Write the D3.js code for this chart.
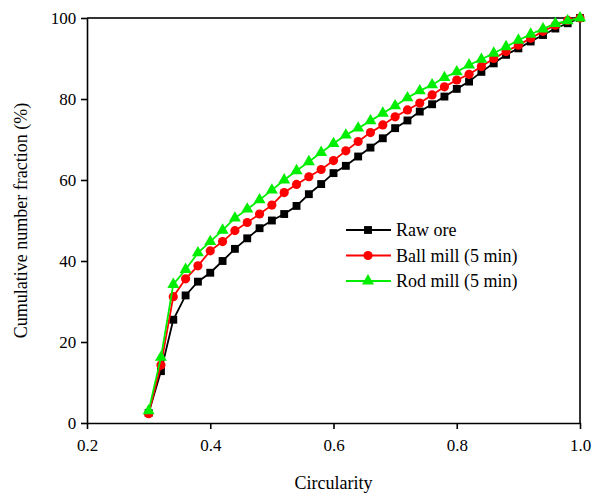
<!DOCTYPE html>
<html>
<head>
<meta charset="utf-8">
<script src="https://cdn.jsdelivr.net/npm/d3@7"></script>
<style>
  body { margin: 0; background: #fff; }
  svg text { font-family: "Liberation Serif", "Times New Roman", Times, serif; }
</style>
</head>
<body>
<div id="chart"></div>
<script>
// circularity values (x)
var circularity = [0.30, 0.32, 0.34, 0.36, 0.38, 0.40, 0.42, 0.44, 0.46, 0.48,
  0.50, 0.52, 0.54, 0.56, 0.58, 0.60, 0.62, 0.64, 0.66, 0.68,
  0.70, 0.72, 0.74, 0.76, 0.78, 0.80, 0.82, 0.84, 0.86, 0.88,
  0.90, 0.92, 0.94, 0.96, 0.98, 1.00];

var rawOre = [2.5, 12.8, 25.5, 31.5, 34.9, 37.1, 40.0, 43.0, 45.6, 48.1,
  50.0, 51.6, 53.6, 56.5, 59.0, 61.7, 63.5, 65.8, 68.0, 70.3,
  72.8, 74.7, 76.9, 78.7, 80.6, 82.5, 84.3, 86.7, 88.8, 90.9,
  92.5, 94.2, 95.8, 97.4, 98.7, 100];

var ballMill = [2.3, 14.3, 31.2, 35.6, 38.8, 42.5, 44.8, 47.5, 49.5, 51.6,
  53.8, 56.9, 58.9, 60.8, 62.6, 64.8, 67.2, 69.5, 71.7, 73.6,
  75.6, 77.3, 79.0, 81.0, 83.0, 84.7, 86.1, 88.0, 90.0, 91.7,
  93.3, 95.0, 96.7, 98.2, 99.4, 100];

var rodMill = [3.0, 16.2, 34.2, 37.9, 42.0, 44.8, 47.6, 50.6, 52.8, 55.1,
  57.5, 60.0, 62.3, 64.5, 66.8, 69.0, 71.1, 72.8, 74.6, 76.5,
  78.3, 80.3, 82.0, 83.5, 85.3, 86.7, 88.4, 89.8, 91.3, 92.9,
  94.5, 96.0, 97.3, 98.6, 99.3, 100];

var seriesNames = ["Raw ore", "Ball mill (5 min)", "Rod mill (5 min)"];
var xTicks = [0.2, 0.4, 0.6, 0.8, 1.0];
var yTicks = [0, 20, 40, 60, 80, 100];

var width = 593;
var height = 496;
var margin = { top: 18, right: 13, bottom: 73, left: 87 };
var serif = '"Liberation Serif", "Times New Roman", Times, serif';

var svg = d3.select("#chart").append("svg")
  .attr("width", width)
  .attr("height", height)
  .attr("font-family", serif);

var x = d3.scaleLinear().domain([0.2, 1.0]).range([margin.left, width - margin.right]);
var y = d3.scaleLinear().domain([0, 100]).range([height - margin.bottom, margin.top]);

var series = [
  { name: seriesNames[0], values: rawOre, color: "#000000", symbol: d3.symbolSquare, size: 62 },
  { name: seriesNames[1], values: ballMill, color: "#ff0000", symbol: d3.symbolCircle, size: 66 },
  { name: seriesNames[2], values: rodMill, color: "#00ee00", symbol: d3.symbolTriangle, size: 62 }
];

// frame (top and right)
svg.append("line")
  .attr("x1", x(0.2)).attr("x2", x(1.0))
  .attr("y1", y(100)).attr("y2", y(100))
  .attr("stroke", "#333").attr("stroke-width", 2);
svg.append("line")
  .attr("x1", x(1.0)).attr("x2", x(1.0))
  .attr("y1", y(100)).attr("y2", y(0))
  .attr("stroke", "#333").attr("stroke-width", 2);

// axes
var xAxis = svg.append("g")
  .attr("transform", "translate(0," + y(0) + ")")
  .call(d3.axisBottom(x).tickValues(xTicks).tickFormat(d3.format(".1f")).tickSize(6).tickSizeOuter(0));
var yAxis = svg.append("g")
  .attr("transform", "translate(" + x(0.2) + ",0)")
  .call(d3.axisLeft(y).tickValues(yTicks).tickSize(6).tickSizeOuter(0));

[xAxis, yAxis].forEach(function (g) {
  g.attr("font-family", serif).attr("font-size", 17);
  g.select(".domain").attr("stroke", "#000").attr("stroke-width", 1.6);
  g.selectAll(".tick line").attr("stroke", "#000").attr("stroke-width", 1.6);
  g.selectAll(".tick text").attr("fill", "#000");
});
xAxis.selectAll(".tick text").attr("dy", "1.1em");
yAxis.selectAll(".tick text").attr("dx", "-0.1em");

// axis titles
svg.append("text")
  .attr("x", (x(0.2) + x(1.0)) / 2)
  .attr("y", 489)
  .attr("text-anchor", "middle")
  .attr("font-size", 18)
  .text("Circularity");

svg.append("text")
  .attr("transform", "translate(27," + (y(0) + y(100)) / 2 + ") rotate(-90)")
  .attr("text-anchor", "middle")
  .attr("font-size", 18)
  .text("Cumulative number fraction (%)");

// lines and markers
var line = d3.line()
  .x(function (d, i) { return x(circularity[i]); })
  .y(function (d) { return y(d); });

series.forEach(function (s) {
  var g = svg.append("g");
  g.append("path")
    .datum(s.values)
    .attr("fill", "none")
    .attr("stroke", s.color)
    .attr("stroke-width", 1.8)
    .attr("d", line);
  g.selectAll("path.marker")
    .data(s.values)
    .join("path")
    .attr("class", "marker")
    .attr("transform", function (d, i) { return "translate(" + x(circularity[i]) + "," + y(d) + ")"; })
    .attr("d", d3.symbol().type(s.symbol).size(s.size))
    .attr("fill", s.color);
});

// legend
var legend = svg.append("g").attr("transform", "translate(346,230)");
series.forEach(function (s, i) {
  var row = legend.append("g").attr("transform", "translate(0," + i * 25.5 + ")");
  row.append("line")
    .attr("x1", 0).attr("x2", 45)
    .attr("stroke", s.color).attr("stroke-width", 1.8);
  row.append("path")
    .attr("transform", "translate(22,0)")
    .attr("d", d3.symbol().type(s.symbol).size(s.size))
    .attr("fill", s.color);
  row.append("text")
    .attr("x", 50)
    .attr("dy", "0.35em")
    .attr("font-size", 18)
    .text(s.name);
});
</script>
</body>
</html>
